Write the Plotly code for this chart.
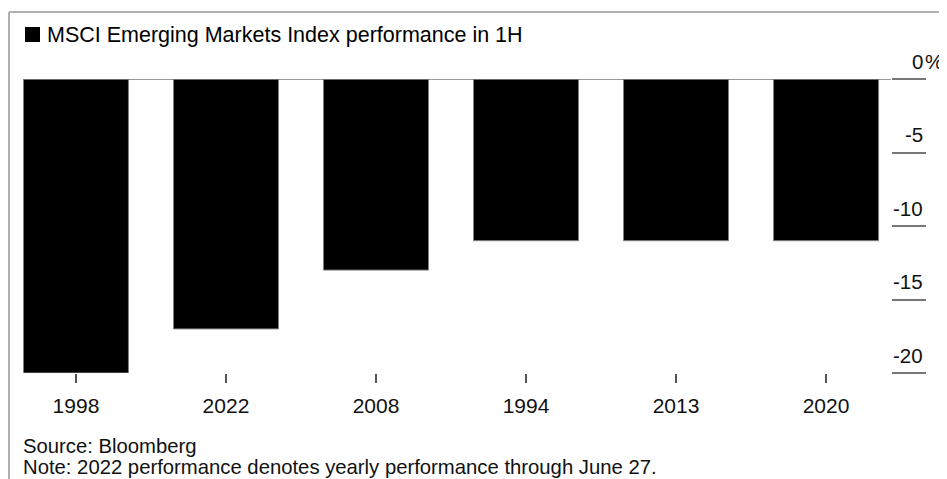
import plotly.graph_objects as go

# ---- data ----
categories = ["1998", "2022", "2008", "1994", "2013", "2020"]
values = [-20.0, -17.0, -13.0, -11.0, -11.0, -11.0]
ytick_vals = [0, -5, -10, -15, -20]
ytick_text = ["0", "-5", "-10", "-15", "-20"]
title_text = "MSCI Emerging Markets Index performance in 1H"
source_text = "Source: Bloomberg"
note_text = "Note: 2022 performance denotes yearly performance through June 27."

# ---- layout geometry (pixels in the reference picture) ----
OFF = 8  # page body margin in the browser
W, H = 947 - OFF, 479 - OFF
L, R, T, B = 23 - OFF, 56, 79 - OFF, 106
PW, PH = W - L - R, H - T - B
FONT = "Liberation Sans, Arial, sans-serif"


def px(x):
    return (x - OFF - L) / PW


def py(y):
    return (H - B - (y - OFF)) / PH


fig = go.Figure(
    go.Bar(
        x=categories,
        y=values,
        marker=dict(color="#000000", line=dict(color="#808080", width=1)),
        showlegend=False,
        hoverinfo="x+y",
    )
)

annotations = []
for v, t in zip(ytick_vals, ytick_text):
    annotations.append(dict(
        x=px(925), xref="paper", xanchor="right",
        y=v, yref="y", yanchor="middle", yshift=18,
        text=t, showarrow=False,
        font=dict(family=FONT, size=20.5, color="#111111"),
    ))
# percent sign hanging after the top label
annotations.append(dict(
    x=px(923), xref="paper", xanchor="left",
    y=ytick_vals[0], yref="y", yanchor="middle", yshift=18,
    text="%", showarrow=False,
    font=dict(family=FONT, size=20.5, color="#111111"),
))
annotations += [
    dict(x=px(45), xref="paper", xanchor="left", y=py(35), yref="paper",
         yanchor="middle", text=title_text, showarrow=False,
         font=dict(family=FONT, size=21.5, color="#000000")),
    dict(x=px(21), xref="paper", xanchor="left", y=py(446), yref="paper",
         yanchor="middle", text=source_text, showarrow=False,
         font=dict(family=FONT, size=20.3, color="#111111")),
    dict(x=px(21), xref="paper", xanchor="left", y=py(467), yref="paper",
         yanchor="middle", text=note_text, showarrow=False,
         font=dict(family=FONT, size=20.3, color="#111111")),
]

shapes = [
    # frame lines
    dict(type="line", xref="paper", yref="paper", x0=px(9), x1=px(950),
         y0=py(12), y1=py(12), line=dict(color="#b0b0b0", width=2)),
    dict(type="line", xref="paper", yref="paper", x0=px(9), x1=px(9),
         y0=py(12), y1=py(482), line=dict(color="#b0b0b0", width=2)),
    # legend square
    dict(type="rect", xref="paper", yref="paper", x0=px(25), x1=px(40),
         y0=py(42), y1=py(27), fillcolor="#000000", line=dict(width=0)),
    # zero line
    dict(type="line", xref="paper", yref="y", x0=0, x1=1, y0=0, y1=0,
         line=dict(color="#777777", width=1.5), layer="above"),
]

fig.update_layout(
    width=W, height=H,
    margin=dict(l=L, r=R, t=T, b=B, pad=0),
    paper_bgcolor="white", plot_bgcolor="white",
    bargap=0.3,
    font=dict(family=FONT, size=20, color="#111111"),
    annotations=annotations,
    shapes=shapes,
    xaxis=dict(
        range=[-0.353, 5.433], showgrid=False, zeroline=False, showline=False,
        ticks="outside", ticklen=9, tickwidth=1.5, tickcolor="#555555",
        tickfont=dict(family=FONT, size=21, color="#111111"),
        ticklabelstandoff=5, fixedrange=True,
    ),
    yaxis=dict(
        range=[-20, 0], side="right", showgrid=False, zeroline=False,
        showline=False, tickmode="array", tickvals=ytick_vals,
        ticks="outside", ticklen=34, tickwidth=1.5, tickcolor="#777777",
        showticklabels=False, fixedrange=True,
    ),
)

fig.write_html("out.html")
